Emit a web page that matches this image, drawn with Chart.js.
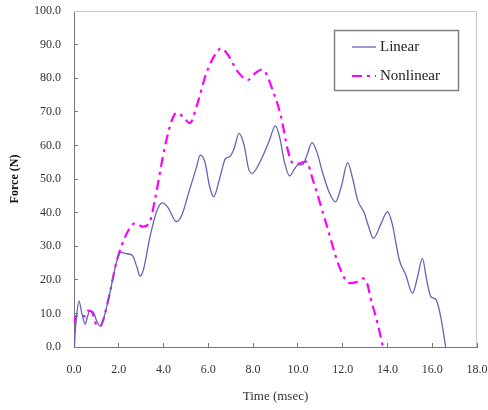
<!DOCTYPE html>
<html>
<head>
<meta charset="utf-8">
<script src="https://cdn.jsdelivr.net/npm/chart.js@4"></script>
<style>
  html, body { margin: 0; padding: 0; background: #fff; }
  #wrap { width: 488px; height: 410px; }
</style>
</head>
<body>
<div id="wrap"><canvas id="forceChart" width="488" height="410"></canvas></div>
<script>
// values (time in msec, force in N)
const seriesNames = ['Linear', 'Nonlinear'];

const linTime = [0, 0.1, 0.22, 0.35, 0.5, 0.6, 0.7, 0.85, 1.0, 1.15, 1.3, 1.6, 1.9, 2.1, 2.3, 2.6, 2.8, 2.95,
  3.1, 3.4, 3.7, 3.94, 4.2, 4.57, 4.8, 5.17, 5.45, 5.64, 5.85, 6.05, 6.24, 6.5, 6.77, 6.95, 7.15, 7.37,
  7.6, 7.8, 7.96, 8.3, 8.7, 9.0, 9.2, 9.4, 9.63, 9.85, 10.0, 10.2, 10.4, 10.63, 10.85, 11.1, 11.4, 11.68,
  11.95, 12.22, 12.45, 12.67, 12.97, 13.15, 13.37, 13.7, 14.0, 14.2, 14.53, 14.82, 15.12, 15.35, 15.56,
  15.75, 15.94, 16.16, 16.38, 16.6];
const linForce = [0, 8, 13.7, 10, 6.8, 9, 10.7, 10.5, 8, 6.3, 8, 16, 25.3, 28.2, 27.8, 27.3, 24, 21.1,
  23, 33, 40.5, 42.9, 41.5, 37.3, 39, 47, 53, 57.1, 55, 48, 44.7, 50, 56.1, 56.6, 59, 63.6,
  60, 53, 51.7, 55, 61, 65.8, 62, 55, 50.9, 53, 54.2, 54.2, 57, 60.8, 58, 52, 46, 43.2,
  48, 54.9, 50, 43.7, 39.8, 36, 32.3, 36.5, 40.3, 37, 25.9, 21.4, 16.0, 21, 26.4,
  20, 15.0, 14.2, 9.0, 0];

const nonTime = [0, 0.05, 0.3, 0.49, 0.6, 0.79, 1.01, 1.16, 1.53, 1.9, 2.32, 2.72, 3.09, 3.39, 3.61, 4.06,
  4.4, 4.58, 4.87, 5.17, 5.47, 5.91, 6.3, 6.58, 6.88, 7.32, 7.77, 8.11, 8.4, 8.95, 9.25, 9.55, 9.77,
  9.95, 10.37, 10.67, 11.26, 11.85, 12.3, 12.6, 12.89, 13.04, 13.27, 13.56, 13.8];
const nonForce = [0, 9, 9.3, 9.2, 10.8, 10.5, 6.5, 6.2, 14, 25.4, 33.3, 36.8, 35.8, 37.3, 43.7, 59.6,
  68, 69.7, 68.5, 66.6, 71.5, 81.5, 87, 88.9, 86.9, 81.9, 79.5, 81.6, 82.6, 75, 68.5, 58.6, 54.7,
  54.5, 55.2, 49.7, 36.8, 23.9, 19, 19.3, 20.4, 19.9, 14, 7, 0];

const xMin = 0, xMax = 18, xStep = 2;
const yMin = 0, yMax = 100, yStep = 10;

const toPoints = (xs, ys) => xs.map((x, i) => ({ x: x, y: ys[i] }));

const serif = "'Liberation Serif', 'Times New Roman', serif";

// keep the plot box where the reference has it
const noLabelPadding = scale => {
    scale.paddingTop = 0;
    scale.paddingBottom = 0;
    scale.paddingLeft = 0;
    scale.paddingRight = 0;
};

// top/right frame of the plot and the boxed legend inside it
const frameAndLegend = {
    id: 'frameAndLegend',
    beforeDatasetsDraw(chart) {
        const { ctx, chartArea } = chart;
        ctx.save();
        ctx.strokeStyle = '#c8c8c8';
        ctx.lineWidth = 1;
        ctx.beginPath();
        ctx.moveTo(chartArea.left, chartArea.top + 0.5);
        ctx.lineTo(chartArea.right - 0.5, chartArea.top + 0.5);
        ctx.lineTo(chartArea.right - 0.5, chartArea.bottom);
        ctx.stroke();
        ctx.restore();
    },
    afterDraw(chart) {
        const { ctx } = chart;
        const box = { x: 334.5, y: 30.5, w: 124, h: 60 };
        ctx.save();
        ctx.fillStyle = '#fff';
        ctx.fillRect(box.x, box.y, box.w, box.h);
        ctx.strokeStyle = '#808080';
        ctx.lineWidth = 1.5;
        ctx.strokeRect(box.x, box.y, box.w, box.h);
        ctx.font = '15px ' + serif;
        ctx.textBaseline = 'middle';
        ctx.fillStyle = '#222';
        chart.data.datasets.forEach((ds, i) => {
            const yy = 47 + i * 29;
            ctx.strokeStyle = ds.borderColor;
            ctx.lineWidth = ds.borderWidth;
            ctx.setLineDash(ds.borderDash || []);
            ctx.beginPath();
            ctx.moveTo(352, yy);
            ctx.lineTo(376, yy);
            ctx.stroke();
            ctx.setLineDash([]);
            ctx.fillText(ds.label, 380, yy);
        });
        ctx.restore();
    }
};

const ctx = document.getElementById('forceChart').getContext('2d');

new Chart(ctx, {
    type: 'line',
    data: {
        datasets: [{
            label: seriesNames[0],
            data: toPoints(linTime, linForce),
            borderColor: '#6265b2',
            borderWidth: 1.3,
            pointRadius: 0,
            fill: false,
            cubicInterpolationMode: 'monotone'
        }, {
            label: seriesNames[1],
            data: toPoints(nonTime, nonForce),
            borderColor: '#ff00ff',
            borderWidth: 2.2,
            borderDash: [10, 5, 3, 5],
            pointRadius: 0,
            fill: false,
            cubicInterpolationMode: 'monotone'
        }]
    },
    options: {
        responsive: false,
        animation: false,
        layout: { padding: { left: 0, right: 11, top: 11, bottom: 0 } },
        plugins: {
            legend: { display: false },
            tooltip: { enabled: false }
        },
        scales: {
            x: {
                type: 'linear',
                min: xMin,
                max: xMax,
                grid: { drawOnChartArea: false, drawTicks: true, tickLength: -4, color: '#777' },
                border: { color: '#777', width: 1 },
                ticks: {
                    stepSize: xStep,
                    padding: 20,
                    maxRotation: 0,
                    color: '#333',
                    font: { family: serif, size: 12 },
                    callback: v => Number(v).toFixed(1)
                },
                title: {
                    display: true,
                    text: 'Time (msec)',
                    color: '#333',
                    font: { family: serif, size: 13 },
                    padding: { top: 4, bottom: 6 }
                },
                afterFit: scale => { scale.height = 63; noLabelPadding(scale); }
            },
            y: {
                min: yMin,
                max: yMax,
                grid: { drawOnChartArea: false, drawTicks: true, tickLength: -4, color: '#777' },
                border: { color: '#777', width: 1 },
                ticks: {
                    stepSize: yStep,
                    padding: 17,
                    color: '#333',
                    font: { family: serif, size: 12 },
                    callback: v => Number(v).toFixed(1)
                },
                title: {
                    display: true,
                    text: 'Force (N)',
                    color: '#111',
                    font: { family: serif, size: 12, weight: 'bold' },
                    padding: { top: 8, bottom: 4 }
                },
                afterFit: scale => { scale.width = 74; noLabelPadding(scale); }
            }
        }
    },
    plugins: [frameAndLegend]
});
</script>
</body>
</html>
